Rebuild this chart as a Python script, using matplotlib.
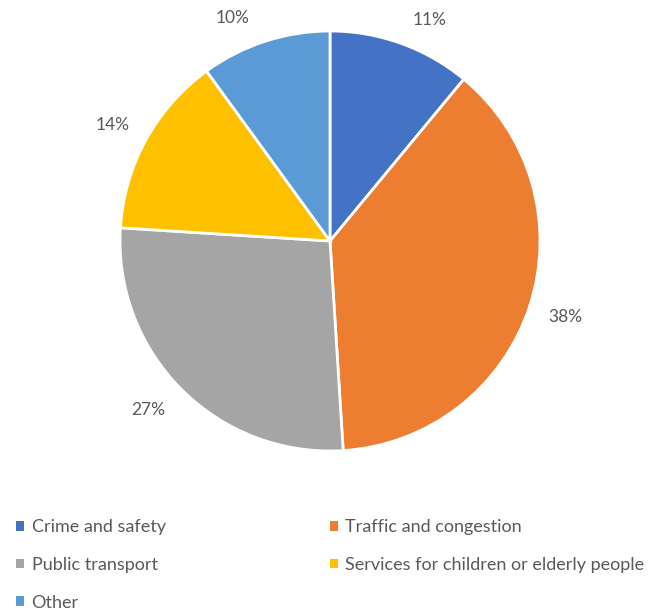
import numpy as np
import matplotlib.pyplot as plt
from matplotlib.patches import Patch

# survey shares (%), clockwise from 12 o'clock
categories = ["Crime and safety", "Traffic and congestion", "Public transport",
              "Services for children or elderly people", "Other"]
shares = [11, 38, 27, 14, 10]
colors = ["#4472C4", "#ED7D31", "#A5A5A5", "#FFC000", "#5B9BD5"]

plt.rcParams['font.family'] = ['Lato', 'DejaVu Sans']
txt_color = "#595959"

fig = plt.figure(figsize=(6.57, 6.11), dpi=100)
ax = fig.add_axes([120/657, 160/611, 420/657, 420/611])

wedges, _, autotexts = ax.pie(
    shares, colors=colors, startangle=90, counterclock=False,
    autopct=lambda p: f"{p:.0f}%", pctdistance=1.17, radius=1,
    wedgeprops=dict(edgecolor="white", linewidth=2),
    textprops=dict(color=txt_color, fontsize=12.5))

# nudge the outside labels a little along the rim so they sit clear of the pie
nudge = [-4.5, 0, -2, 0.7, 5.7]
dist = [1.155, 1.177, 1.183, 1.171, 1.16]
for w, t, d, r in zip(wedges, autotexts, nudge, dist):
    a = np.deg2rad((w.theta1 + w.theta2) / 2 + d)
    t.set_position((r * np.cos(a), r * np.sin(a)))

ax.set_xlim(-1, 1)
ax.set_ylim(-1, 1)
ax.set_aspect("equal")

# legend filled row by row (matplotlib fills by column)
order = [0, 2, 4, 1, 3]
handles = [Patch(facecolor=colors[i], edgecolor="none") for i in order]
fig.legend(handles, [categories[i] for i in order], ncol=2, loc="upper left",
           bbox_to_anchor=(0.0, 1 - 503/611), frameon=False,
           fontsize=13, labelcolor=txt_color,
           handlelength=0.45, handleheight=0.45, handletextpad=0.4,
           columnspacing=9.1, labelspacing=1.2)

fig.savefig("out.png", dpi=100)
